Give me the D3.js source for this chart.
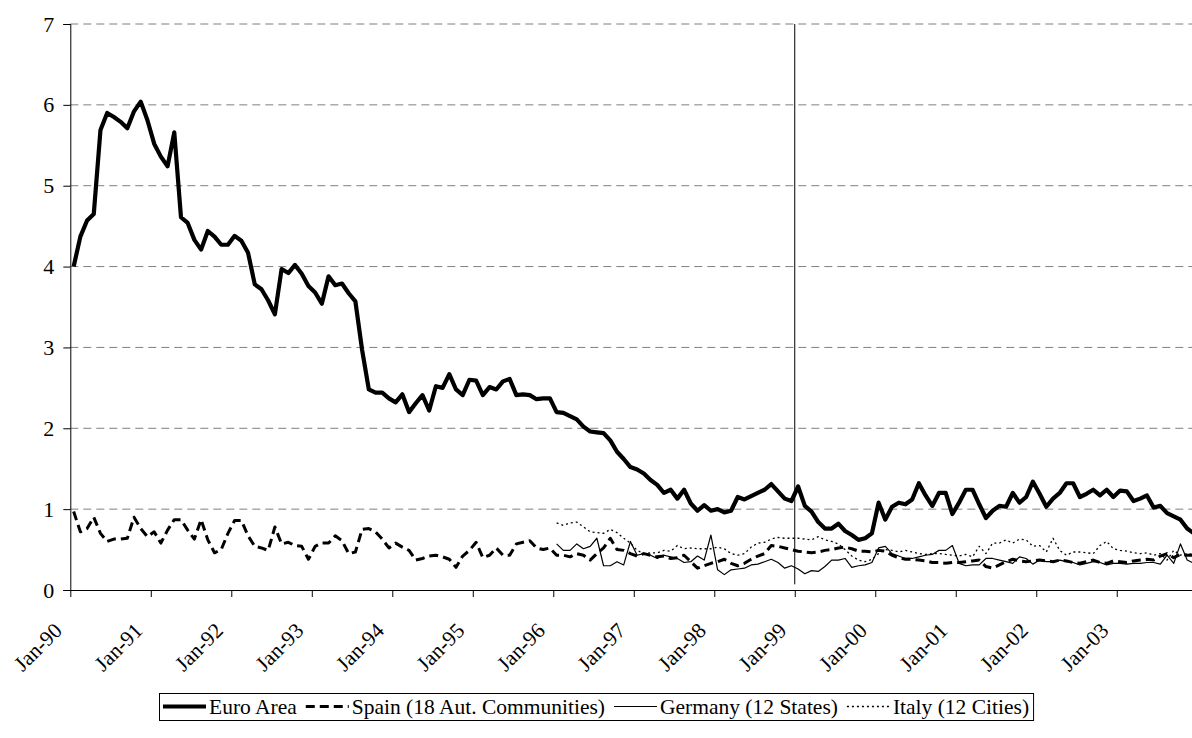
<!DOCTYPE html>
<html>
<head>
<meta charset="utf-8">
<script src="https://cdn.jsdelivr.net/npm/d3@7"></script>
<style>
  body { margin: 0; background: #fff; }
  svg text { font-family: "Liberation Serif", "DejaVu Serif", serif; fill: #000; }
</style>
</head>
<body>
<div id="chart"></div>
<script>
// monthly data, Jan-90 .. Dec-03 (168 months)
const yearLabels = ["Jan-90","Jan-91","Jan-92","Jan-93","Jan-94","Jan-95","Jan-96",
                    "Jan-97","Jan-98","Jan-99","Jan-00","Jan-01","Jan-02","Jan-03"];
const yTicks = [0, 1, 2, 3, 4, 5, 6, 7];

const euroArea = [
  4.00,4.37,4.57,4.65,5.69,5.90,5.85,5.79,5.71,5.92,6.04,5.81,
  5.52,5.36,5.24,5.66,4.61,4.54,4.33,4.21,4.44,4.37,4.27,4.27,
  4.38,4.32,4.17,3.78,3.72,3.58,3.41,3.97,3.92,4.02,3.91,3.76,
  3.68,3.54,3.88,3.77,3.79,3.67,3.57,2.97,2.48,2.44,2.44,2.37,
  2.32,2.42,2.20,2.31,2.41,2.22,2.52,2.50,2.67,2.48,2.41,2.60,
  2.59,2.41,2.51,2.48,2.58,2.61,2.41,2.42,2.41,2.36,2.37,2.37,
  2.20,2.19,2.15,2.11,2.02,1.96,1.95,1.94,1.85,1.71,1.62,1.52,
  1.49,1.44,1.36,1.30,1.20,1.24,1.13,1.24,1.07,0.98,1.05,0.98,
  1.00,0.96,0.98,1.15,1.12,1.16,1.20,1.24,1.31,1.22,1.13,1.10,
  1.28,1.04,0.97,0.84,0.76,0.76,0.82,0.73,0.68,0.62,0.64,0.70,
  1.08,0.87,1.03,1.08,1.06,1.12,1.32,1.17,1.04,1.20,1.20,0.94,
  1.08,1.24,1.24,1.06,0.89,0.98,1.04,1.03,1.20,1.08,1.15,1.34,
  1.19,1.03,1.13,1.20,1.32,1.32,1.15,1.19,1.24,1.17,1.24,1.15,
  1.23,1.22,1.10,1.13,1.17,1.02,1.04,0.95,0.91,0.87,0.76,0.70
];

const spain = [
  0.97,0.72,0.76,0.90,0.70,0.60,0.63,0.63,0.64,0.90,0.76,0.66,
  0.72,0.58,0.74,0.87,0.87,0.74,0.63,0.87,0.62,0.46,0.50,0.70,
  0.86,0.86,0.67,0.54,0.52,0.49,0.78,0.57,0.59,0.55,0.54,0.38,
  0.54,0.58,0.58,0.67,0.61,0.45,0.47,0.75,0.76,0.72,0.63,0.52,
  0.58,0.53,0.49,0.37,0.39,0.42,0.43,0.41,0.38,0.28,0.42,0.49,
  0.59,0.40,0.43,0.52,0.43,0.43,0.57,0.59,0.61,0.52,0.50,0.52,
  0.43,0.43,0.41,0.45,0.43,0.37,0.45,0.52,0.64,0.50,0.49,0.45,
  0.42,0.45,0.43,0.41,0.42,0.39,0.40,0.43,0.35,0.27,0.30,0.33,
  0.35,0.38,0.33,0.30,0.33,0.38,0.42,0.45,0.55,0.54,0.52,0.50,
  0.48,0.47,0.46,0.47,0.49,0.50,0.52,0.53,0.51,0.48,0.48,0.47,
  0.49,0.48,0.43,0.40,0.38,0.38,0.37,0.36,0.34,0.34,0.33,0.34,
  0.34,0.35,0.36,0.37,0.29,0.27,0.31,0.35,0.38,0.36,0.35,0.36,
  0.37,0.36,0.35,0.37,0.36,0.34,0.33,0.35,0.37,0.34,0.33,0.36,
  0.35,0.34,0.36,0.37,0.38,0.37,0.42,0.45,0.40,0.44,0.43,0.43
];

// Germany and Italy start in Jan-96 (month index 72)
const germany = [
  0.57,0.49,0.49,0.57,0.51,0.54,0.64,0.30,0.30,0.35,0.31,0.60,
  0.43,0.45,0.43,0.39,0.43,0.41,0.39,0.34,0.35,0.42,0.37,0.68,
  0.25,0.19,0.25,0.26,0.27,0.31,0.32,0.35,0.38,0.34,0.27,0.30,
  0.26,0.20,0.24,0.23,0.29,0.37,0.37,0.39,0.28,0.30,0.31,0.34,
  0.52,0.54,0.45,0.42,0.39,0.39,0.41,0.43,0.44,0.49,0.49,0.55,
  0.33,0.30,0.31,0.31,0.39,0.39,0.37,0.35,0.33,0.41,0.39,0.32,
  0.37,0.35,0.35,0.37,0.35,0.34,0.31,0.33,0.35,0.34,0.31,0.33,
  0.33,0.32,0.33,0.33,0.34,0.34,0.32,0.43,0.33,0.57,0.37,0.33
];

const italy = [
  0.83,0.80,0.83,0.84,0.78,0.72,0.71,0.70,0.75,0.71,0.64,0.58,
  0.49,0.45,0.46,0.46,0.49,0.48,0.55,0.51,0.52,0.51,0.51,0.51,
  0.53,0.51,0.45,0.43,0.45,0.53,0.58,0.59,0.63,0.65,0.64,0.64,
  0.64,0.63,0.62,0.66,0.62,0.60,0.57,0.50,0.42,0.37,0.35,0.38,
  0.45,0.50,0.49,0.47,0.49,0.47,0.45,0.44,0.45,0.45,0.44,0.43,
  0.42,0.44,0.41,0.54,0.45,0.58,0.58,0.62,0.58,0.63,0.62,0.54,
  0.55,0.47,0.64,0.49,0.43,0.47,0.47,0.46,0.45,0.55,0.60,0.51,
  0.49,0.48,0.46,0.45,0.46,0.43,0.45,0.37,0.49,0.43,0.45,0.44
];
const lateStart = 72;
const markerMonth = 108; // Jan-99 vertical line

const width = 1192;
const height = 738;
const margin = { left: 70.3, top: 24, bottom: 590 };
const nMonths = euroArea.length;
const monthW = 6.708;

const svg = d3.select("#chart").append("svg")
    .attr("width", width)
    .attr("height", height)
    .style("display", "block");

// category axis: months are bands, points sit at band centres
const x = d3.scaleLinear()
    .domain([0, nMonths])
    .range([margin.left, margin.left + nMonths * monthW]);
const y = d3.scaleLinear()
    .domain([0, 7])
    .range([margin.bottom, margin.top]);

// gridlines
svg.append("g")
  .selectAll("line")
  .data(yTicks.filter(d => d > 0))
  .join("line")
    .attr("x1", x(0)).attr("x2", width)
    .attr("y1", d => y(d)).attr("y2", d => y(d))
    .attr("stroke", "#7f7f7f")
    .attr("stroke-width", 1)
    .attr("stroke-dasharray", "8,5");

// y axis
const yAxis = svg.append("g")
    .attr("transform", `translate(${x(0)},0)`)
    .call(d3.axisLeft(y).tickValues(yTicks).tickSize(7).tickPadding(9).tickFormat(d3.format("d")));
yAxis.attr("font-family", null).attr("font-size", null);
yAxis.select(".domain").attr("stroke", "#000");
yAxis.selectAll("text").style("font-size", "22px");

// x axis
const xTickVals = yearLabels.map((d, i) => i * 12);
const xAxis = svg.append("g")
    .attr("transform", `translate(0,${y(0)})`)
    .call(d3.axisBottom(x).tickValues(xTickVals).tickSize(7).tickFormat((d, i) => yearLabels[i]));
xAxis.attr("font-family", null).attr("font-size", null);
xAxis.select(".domain").attr("d", `M${x(0)},0.5H${width}`).attr("stroke", "#000");
xAxis.selectAll("text")
    .style("font-size", "21.5px")
    .attr("text-anchor", "end")
    .attr("dy", null)
    .attr("y", 0)
    .attr("transform", "translate(-7.5,42) rotate(-45)");

// vertical marker at Jan-99
svg.append("line")
    .attr("x1", x(markerMonth)).attr("x2", x(markerMonth))
    .attr("y1", y(7)).attr("y2", y(0.07))
    .attr("stroke", "#000").attr("stroke-width", 1);

const line = d3.line()
    .defined(d => d.v != null)
    .x(d => x(d.i + 0.5))
    .y(d => y(d.v));

const series = [
  { name: "Italy (12 Cities)", values: italy, start: lateStart, width: 1.3, dash: "2,3" },
  { name: "Germany (12 States)", values: germany, start: lateStart, width: 1.2, dash: null },
  { name: "Spain (18 Aut. Communities)", values: spain, start: 0, width: 3, dash: "9,5" },
  { name: "Euro Area", values: euroArea, start: 0, width: 4.2, dash: null }
];

svg.append("g")
  .selectAll("path")
  .data(series)
  .join("path")
    .attr("d", s => line(s.values.map((v, k) => ({ i: s.start + k, v: v }))))
    .attr("fill", "none")
    .attr("stroke", "#000")
    .attr("stroke-width", s => s.width)
    .attr("stroke-linejoin", "round")
    .attr("stroke-dasharray", s => s.dash);

// legend, centred under the chart
const legendOrder = [3, 2, 1, 0].map(k => series[k]);
const legend = svg.append("g");
const legendBox = legend.append("rect")
    .attr("fill", "#fff").attr("stroke", "#000").attr("stroke-width", 1);
const items = legend.append("g");
const legendTop = 693;
const legendY = legendTop + 13.5;
const sampleW = 43;
let cx = 0;
legendOrder.forEach(s => {
  items.append("line")
    .attr("x1", cx).attr("x2", cx + sampleW)
    .attr("y1", legendY).attr("y2", legendY)
    .attr("stroke", "#000")
    .attr("stroke-width", s.width)
    .attr("stroke-dasharray", s.dash);
  const t = items.append("text")
    .attr("x", cx + sampleW + 3)
    .attr("y", legendY + 7)
    .style("font-size", "21.5px")
    .text(s.name);
  cx += sampleW + 3 + t.node().getComputedTextLength() + 9;
});
const legendW = cx - 9 + 8;
const legendX = Math.round(width / 2 - legendW / 2);
items.attr("transform", `translate(${legendX + 4},0)`);
legendBox
    .attr("x", legendX + 0.5).attr("y", legendTop + 0.5)
    .attr("width", legendW).attr("height", 27);
</script>
</body>
</html>
